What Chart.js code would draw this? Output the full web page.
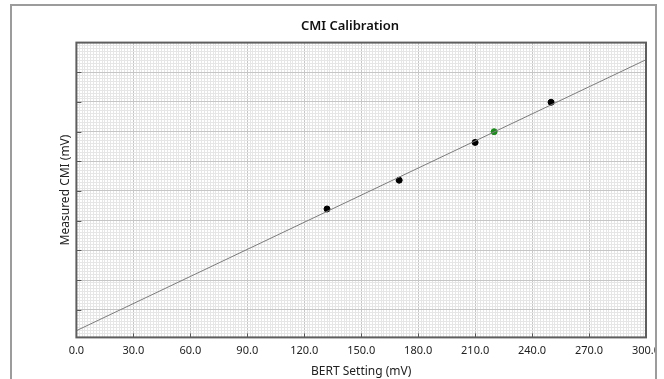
<!DOCTYPE html>
<html>
<head>
<meta charset="utf-8">
<script src="https://cdn.jsdelivr.net/npm/chart.js@4.4.1/dist/chart.umd.min.js"></script>
<style>
  body { margin: 0; background: #fff; width: 664px; height: 379px; overflow: hidden; position: relative; }
  #frame { position: absolute; left: 10px; top: 4px; width: 643px; height: 400px;
           border: 2px solid #9c9c9c; border-bottom: none; overflow: hidden; background: #fff; }
  #calChart { position: absolute; left: -12px; top: -6px; }
</style>
</head>
<body>
<div id="frame"><canvas id="calChart" width="690" height="379"></canvas></div>
<script>
// measured points (black)
const bertSetting = [132, 170, 210, 250];
const measuredCmi = [131.8, 160.9, 199.1, 239.7];
// check point (green)
const checkSetting = [220];
const checkCmi = [209.9];
// fitted calibration line
const fitSetting = [0, 300];
const fitCmi = [8.8, 282.7];
// axes
const xMin = 0, xMax = 300, xMajor = 30, xMinor = 1.5;
const yMin = 2, yMax = 300, yMajor = 30, yMinor = 3;

const toPoints = (xs, ys) => xs.map((x, i) => ({ x: x, y: ys[i] }));
const isMajor = (v, step) => Math.abs(v / step - Math.round(v / step)) < 1e-6;

const frameAndTicks = {
  id: "frameAndTicks",
  afterDraw(chart) {
    const { ctx, chartArea: a, scales } = chart;
    ctx.save();
    ctx.strokeStyle = "#555";
    ctx.lineWidth = 1;
    ctx.beginPath();
    scales.x.ticks.forEach((t) => {
      if (!isMajor(t.value, xMajor)) return;
      const px = Math.round(scales.x.getPixelForValue(t.value)) + 0.5;
      ctx.moveTo(px, a.bottom);
      ctx.lineTo(px, a.bottom - 4);
    });
    scales.y.ticks.forEach((t) => {
      if (!isMajor(t.value, yMajor) || t.value === yMax) return;
      const py = Math.round(scales.y.getPixelForValue(t.value)) + 0.5;
      ctx.moveTo(a.left, py);
      ctx.lineTo(a.left + 5, py);
    });
    ctx.stroke();
    ctx.strokeStyle = "#5e5e5e";
    ctx.lineWidth = 2;
    ctx.strokeRect(a.left, a.top, a.right - a.left, a.bottom - a.top);
    ctx.restore();
  },
};

new Chart(document.getElementById("calChart").getContext("2d"), {
  type: "scatter",
  data: {
    datasets: [
      {
        label: "Fit",
        data: toPoints(fitSetting, fitCmi),
        showLine: true,
        borderColor: "#7c7c7c",
        borderWidth: 1,
        pointRadius: 0,
      },
      {
        label: "Measured",
        data: toPoints(bertSetting, measuredCmi),
        backgroundColor: "#000",
        borderColor: "#000",
        pointRadius: 3,
      },
      {
        label: "Check",
        data: toPoints(checkSetting, checkCmi),
        backgroundColor: "#1f8a1f",
        borderColor: "#1f8a1f",
        pointRadius: 3,
      },
    ],
  },
  options: {
    responsive: false,
    animation: false,
    layout: { padding: { left: 54, right: 44, top: 0, bottom: 0 } },
    plugins: {
      legend: { display: false },
      tooltip: { enabled: false },
      title: {
        display: true,
        text: "CMI Calibration",
        color: "#111",
        font: { family: "'Noto Sans', sans-serif", size: 13, weight: "600" },
        padding: { top: 18, bottom: 9 },
      },
    },
    scales: {
      x: {
        type: "linear",
        min: xMin,
        max: xMax,
        ticks: {
          stepSize: xMinor,
          autoSkip: false,
          maxRotation: 0,
          padding: 7,
          color: "#222",
          font: { family: "'Noto Sans', sans-serif", size: 11 },
          callback: (v) => (isMajor(v, xMajor) ? v.toFixed(1) : ""),
        },
        grid: {
          drawTicks: false,
          color: (c) => (isMajor(c.tick.value, xMajor) ? "#c6c6c6" : "#e6e6e6"),
        },
        border: { display: false },
        title: {
          display: true,
          text: "BERT Setting (mV)",
          color: "#222",
          font: { family: "'Noto Sans', sans-serif", size: 12 },
          padding: { top: 0, bottom: 0 },
        },
      },
      y: {
        type: "linear",
        min: yMin,
        max: yMax,
        ticks: { stepSize: yMinor, display: false },
        grid: {
          drawTicks: false,
          color: (c) => (isMajor(c.tick.value, yMajor) ? "#c6c6c6" : "#e6e6e6"),
        },
        border: { display: false },
        title: {
          display: true,
          text: "Measured CMI (mV)",
          color: "#222",
          font: { family: "'Noto Sans', sans-serif", size: 12 },
          padding: 4,
        },
      },
    },
  },
  plugins: [frameAndTicks],
});
</script>
</body>
</html>
